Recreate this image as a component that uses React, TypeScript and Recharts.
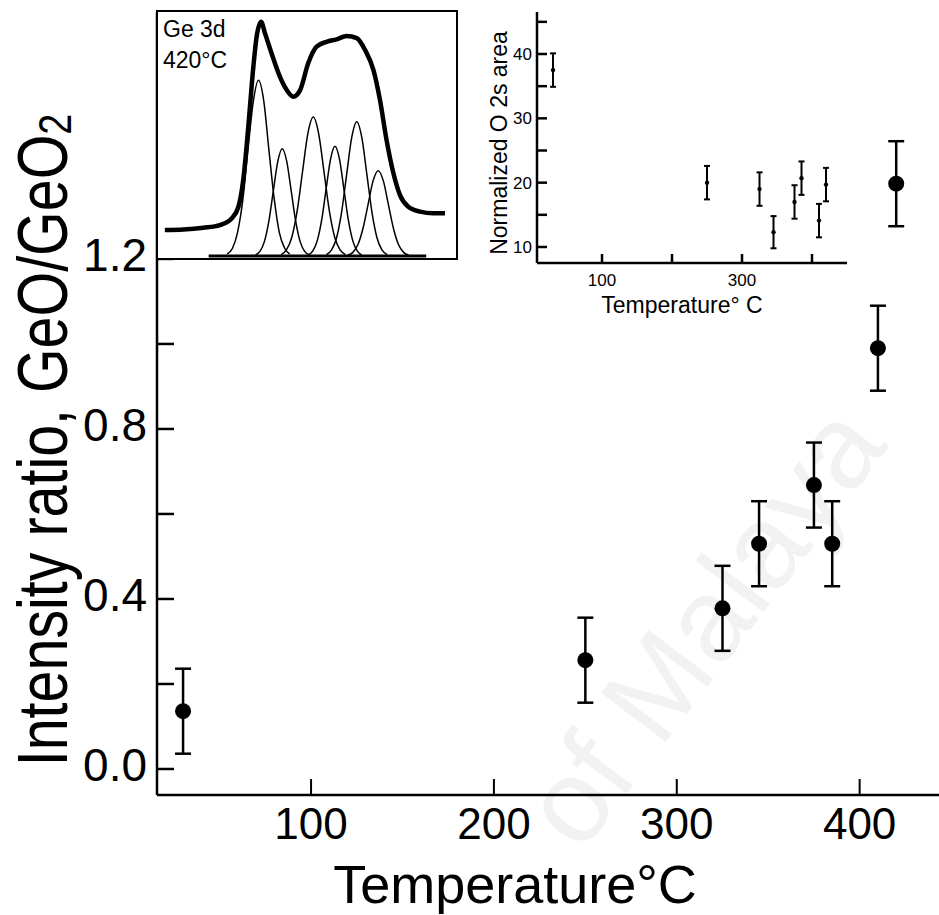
import React from "react";
import { ComposedChart, Line, Scatter, ErrorBar, XAxis, YAxis, Label } from "recharts";

// main plot: GeO / GeO2 intensity ratio vs temperature
const temps = [30, 250, 325, 345, 375, 385, 410, 420];
const ratio = [0.136, 0.256, 0.378, 0.53, 0.668, 0.53, 0.99, 1.377];
const ratioErr = [0.1, 0.1, 0.1, 0.1, 0.1, 0.1, 0.1, 0.1];
const xTicks = [100, 200, 300, 400];
const yTicks = [0, 0.2, 0.4, 0.6, 0.8, 1.0, 1.2, 1.4, 1.6];
const yLabelTicks = [0, 0.4, 0.8, 1.2];

// inset: normalized O 2s area
const o2sTemps = [30, 250, 325, 345, 375, 385, 410, 420];
const o2sArea = [37.5, 20.0, 19.0, 12.3, 17.0, 20.7, 14.1, 19.7];
const o2sErr = [2.6, 2.6, 2.6, 2.5, 2.6, 2.6, 2.6, 2.6];
const o2sXTicks = [100, 200, 300, 400];
const o2sXLabels = [100, 300];
const o2sYTicks = [10, 15, 20, 25, 30, 35, 40, 45];
const o2sYLabels = [10, 20, 30, 40];

// inset: Ge 3d spectrum at 420 C (arbitrary units)
const envX = [2.3, 8.5, 15.2, 20.8, 24.7, 27.0, 28.6, 30.3, 32.0, 33.1, 34.6, 35.9, 38.1, 40.9, 43.2, 45.4, 47.7, 50.4, 53.2, 56.6, 59.9, 63.3, 66.7, 69.5, 72.3, 74.5, 76.7, 79.0, 81.2, 84.0, 87.9, 92.4, 96.3];
const envY = [10.7, 10.9, 11.6, 12.7, 15.4, 20.2, 31.1, 53.0, 77.6, 89.9, 96.0, 91.3, 83.1, 73.5, 68.0, 65.3, 68.0, 79.0, 85.8, 87.8, 88.8, 90.2, 89.3, 84.4, 76.2, 63.9, 47.5, 33.9, 25.0, 20.2, 18.2, 17.5, 17.5];

const comp1X = [23.2, 25.0, 26.7, 28.5, 30.2, 32.0, 33.7, 35.5, 37.2, 39.0, 40.7, 42.5, 44.2];
const comp1Y = [0.8, 3.2, 9.7, 23.4, 43.7, 63.5, 72, 63.5, 43.7, 23.4, 9.7, 3.2, 0.8];
const comp2X = [32.7, 34.2, 35.7, 37.2, 38.7, 40.2, 41.7, 43.2, 44.7, 46.2, 47.7, 49.2, 50.7];
const comp2Y = [0.5, 1.9, 5.9, 14.3, 26.7, 38.8, 44, 38.8, 26.7, 14.3, 5.9, 1.9, 0.5];
const comp3X = [41.3, 43.1, 44.9, 46.7, 48.5, 50.3, 52.1, 53.9, 55.7, 57.5, 59.3, 61.1, 62.9];
const comp3Y = [0.6, 2.5, 7.7, 18.5, 34.6, 50.3, 57, 50.3, 34.6, 18.5, 7.7, 2.5, 0.6];
const comp4X = [50.4, 51.9, 53.4, 54.9, 56.4, 57.9, 59.4, 60.9, 62.4, 63.9, 65.4, 66.9, 68.4];
const comp4Y = [0.5, 2.0, 6.1, 14.6, 27.3, 39.7, 45, 39.7, 27.3, 14.6, 6.1, 2.0, 0.5];
const comp5X = [56.5, 58.2, 59.9, 61.6, 63.3, 65.0, 66.7, 68.4, 70.1, 71.8, 73.5, 75.2, 76.9];
const comp5Y = [0.6, 2.4, 7.4, 17.9, 33.4, 48.5, 55, 48.5, 33.4, 17.9, 7.4, 2.4, 0.6];
const comp6X = [63.7, 65.4, 67.1, 68.8, 70.5, 72.2, 73.9, 75.6, 77.3, 79.0, 80.7, 82.4, 84.1];
const comp6Y = [0.4, 1.5, 4.7, 11.4, 21.2, 30.9, 35, 30.9, 21.2, 11.4, 4.7, 1.5, 0.4];
const baseX = [17, 90];
const baseY = [0, 0];

const FONT = "'Liberation Sans', Arial, Helvetica, sans-serif";

const zip = (xs: number[], ys: number[]) => xs.map((x, i) => ({ x, y: ys[i] }));

const mainData = temps.map((t, i) => ({ t, r: ratio[i], e: ratioErr[i] }));
const o2sData = o2sTemps.map((t, i) => ({ t, a: o2sArea[i], e: o2sErr[i] }));
const components = [
  zip(comp1X, comp1Y),
  zip(comp2X, comp2Y),
  zip(comp3X, comp3Y),
  zip(comp4X, comp4Y),
  zip(comp5X, comp5Y),
  zip(comp6X, comp6Y),
];

const has = (list: number[], v: number) => list.some((l) => Math.abs(l - v) < 1e-6);

function MainYTick(props: any) {
  const { x, y, payload } = props;
  const v = payload.value;
  return (
    <g>
      <line x1={x} x2={x + 17} y1={y} y2={y} stroke="#000" strokeWidth={2.5} />
      {has(yLabelTicks, v) && (
        <text x={x - 10} y={y + 12} textAnchor="end" fontSize={46} fontFamily={FONT} fill="#000">
          {v.toFixed(1)}
        </text>
      )}
    </g>
  );
}

function MainXTick(props: any) {
  const { x, y, payload } = props;
  return (
    <g>
      <line x1={x} x2={x} y1={y} y2={y - 16} stroke="#000" strokeWidth={2} />
      <text x={x} y={y + 44} textAnchor="middle" fontSize={44} fontFamily={FONT} fill="#000">
        {payload.value}
      </text>
    </g>
  );
}

function InsetYTick(props: any) {
  const { x, y, payload } = props;
  const v = payload.value;
  return (
    <g>
      <line x1={x} x2={x + 10} y1={y} y2={y} stroke="#000" strokeWidth={2.5} />
      {has(o2sYLabels, v) && (
        <text x={x - 5} y={y + 6} textAnchor="end" fontSize={17} fontFamily={FONT} fill="#000">
          {v}
        </text>
      )}
    </g>
  );
}

function InsetXTick(props: any) {
  const { x, y, payload } = props;
  const v = payload.value;
  return (
    <g>
      <line x1={x} x2={x} y1={y} y2={y - 9} stroke="#000" strokeWidth={2.5} />
      {has(o2sXLabels, v) && (
        <text x={x} y={y + 23} textAnchor="middle" fontSize={17} fontFamily={FONT} fill="#000">
          {v}
        </text>
      )}
    </g>
  );
}

const bigDot = (p: any) => <circle cx={p.cx} cy={p.cy} r={8} fill="#000" />;
const smallDot = (p: any) => <circle cx={p.cx} cy={p.cy} r={2.2} fill="#000" />;

function MainChart() {
  return (
    <ComposedChart width={939} height={915} data={mainData} margin={{ top: 12, right: 0, left: 0, bottom: 0 }}>
      <XAxis
        xAxisId="b"
        dataKey="t"
        type="number"
        domain={[15.75, 443.4]}
        allowDataOverflow
        ticks={xTicks}
        tickSize={0}
        tickMargin={0}
        tick={<MainXTick />}
        height={120}
        axisLine={{ stroke: "#000", strokeWidth: 2.5 }}
      >
        <Label
          content={() => (
            <text x={515} y={903} textAnchor="middle" fontSize={54} fontFamily={FONT} fill="#000">
              Temperature°C
            </text>
          )}
        />
      </XAxis>
      <XAxis
        xAxisId="top"
        orientation="top"
        type="number"
        domain={[15.75, 443.4]}
        height={0}
        tick={false}
        tickLine={false}
        axisLine={{ stroke: "#000", strokeWidth: 2.5 }}
      />
      <YAxis
        yAxisId="l"
        type="number"
        domain={[-0.0612, 1.781]}
        allowDataOverflow
        ticks={yTicks}
        tickSize={0}
        tickMargin={0}
        tick={<MainYTick />}
        width={157}
        axisLine={{ stroke: "#000", strokeWidth: 2.5 }}
      >
        <Label
          content={() => (
            <text
              transform="translate(67,440) rotate(-90) scale(0.82,1)"
              textAnchor="middle"
              fontSize={70}
              fontFamily={FONT}
              fill="#000"
            >
              Intensity ratio, GeO/GeO
              <tspan fontSize={46} dy={4}>
                2
              </tspan>
            </text>
          )}
        />
      </YAxis>
      <Scatter xAxisId="b" yAxisId="l" dataKey="r" shape={bigDot} isAnimationActive={false}>
        <ErrorBar dataKey="e" direction="y" width={8} stroke="#000" strokeWidth={2.5} />
      </Scatter>
    </ComposedChart>
  );
}

function SpectrumInset() {
  return (
    <div
      style={{
        position: "absolute",
        left: 156,
        top: 10,
        width: 298,
        height: 246,
        border: "2px solid #000",
        background: "#fff",
      }}
    >
      <ComposedChart width={298} height={246} margin={{ top: 0, right: 0, left: 0, bottom: 0 }}>
        <XAxis dataKey="x" type="number" domain={[0, 100]} hide allowDataOverflow />
        <YAxis type="number" domain={[-0.8, 100]} hide allowDataOverflow />
        <Line
          data={zip(baseX, baseY)}
          dataKey="y"
          type="linear"
          stroke="#000"
          strokeWidth={3}
          dot={false}
          isAnimationActive={false}
        />
        {components.map((c, i) => (
          <Line
            key={i}
            data={c}
            dataKey="y"
            type="monotone"
            stroke="#000"
            strokeWidth={1.5}
            dot={false}
            isAnimationActive={false}
          />
        ))}
        <Line
          data={zip(envX, envY)}
          dataKey="y"
          type="monotone"
          stroke="#000"
          strokeWidth={4.5}
          dot={false}
          isAnimationActive={false}
        />
        <text x={5} y={25} fontSize={23} fontFamily={FONT} fill="#000">
          Ge 3d
        </text>
        <text x={5} y={56} fontSize={23} fontFamily={FONT} fill="#000">
          420°C
        </text>
      </ComposedChart>
    </div>
  );
}

function O2sInset() {
  return (
    <div style={{ position: "absolute", left: 470, top: 0, width: 380, height: 330 }}>
      <ComposedChart width={380} height={330} data={o2sData} margin={{ top: 12, right: 3, left: 0, bottom: 0 }}>
        <XAxis
          dataKey="t"
          type="number"
          domain={[7.1, 450]}
          allowDataOverflow
          ticks={o2sXTicks}
          tickSize={0}
          tickMargin={0}
          tick={<InsetXTick />}
          height={67}
          axisLine={{ stroke: "#000", strokeWidth: 2.5 }}
        >
          <Label
            content={() => (
              <text x={212} y={313} textAnchor="middle" fontSize={23} fontFamily={FONT} fill="#000">
                Temperature° C
              </text>
            )}
          />
        </XAxis>
        <YAxis
          yAxisId="l"
          type="number"
          domain={[7.51, 46.53]}
          allowDataOverflow
          ticks={o2sYTicks}
          tickSize={0}
          tickMargin={0}
          tick={<InsetYTick />}
          width={67}
          axisLine={{ stroke: "#000", strokeWidth: 2.5 }}
        >
          <Label
            content={() => (
              <text
                transform="translate(37,143) rotate(-90)"
                textAnchor="middle"
                fontSize={23}
                fontFamily={FONT}
                fill="#000"
              >
                Normalized O 2s area
              </text>
            )}
          />
        </YAxis>
        <YAxis
          yAxisId="r"
          orientation="right"
          type="number"
          domain={[7.51, 46.53]}
          width={0}
          tick={false}
          tickLine={false}
          axisLine={{ stroke: "#000", strokeWidth: 2.5 }}
        />
        <Scatter yAxisId="l" dataKey="a" shape={smallDot} isAnimationActive={false}>
          <ErrorBar dataKey="e" direction="y" width={3} stroke="#000" strokeWidth={2} />
        </Scatter>
      </ComposedChart>
    </div>
  );
}

export default function App() {
  return (
    <div
      style={{
        position: "absolute",
        left: 0,
        top: 0,
        width: 939,
        height: 915,
        overflow: "hidden",
        background: "#fff",
      }}
    >
      <svg width={939} height={915} style={{ position: "absolute", left: 0, top: 0 }}>
        <text
          transform="translate(735,650) rotate(-53)"
          textAnchor="middle"
          fontSize={118}
          fontFamily={FONT}
          fill="#f2f2f2"
        >
          of Malaya
        </text>
      </svg>
      <div style={{ position: "absolute", left: 0, top: 0 }}>
        <MainChart />
      </div>
      <SpectrumInset />
      <O2sInset />
    </div>
  );
}
